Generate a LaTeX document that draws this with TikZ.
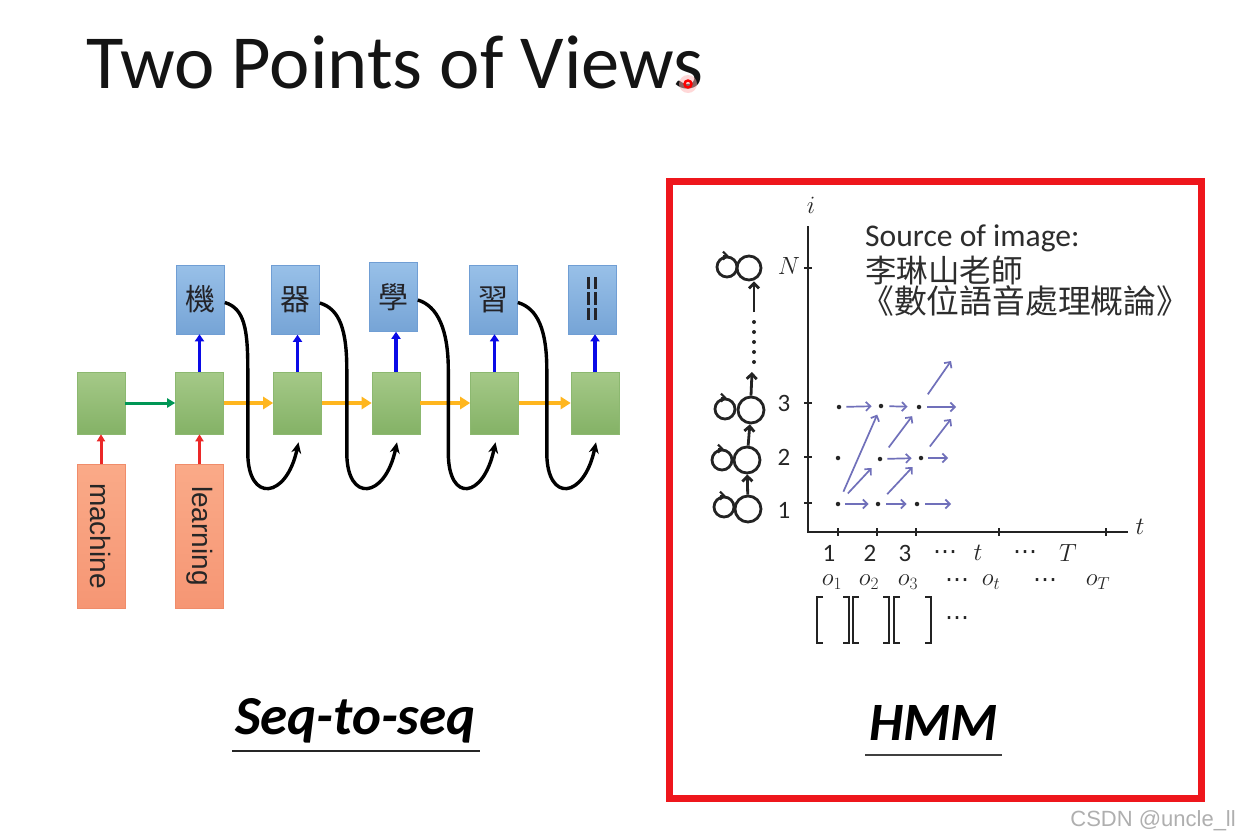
\documentclass[tikz,border=0pt]{standalone}
\usepackage{graphicx}
\usepackage{fontspec}
\setmainfont{Carlito}
\newfontfamily\cjk{Noto Sans CJK TC}
\newfontfamily\arialf{Liberation Sans}
\newfontfamily\djv{DejaVu Sans}
\usetikzlibrary{arrows.meta,calc}
\definecolor{hidtop}{RGB}{165,201,136}
\definecolor{hidbot}{RGB}{132,178,102}
\definecolor{hidline}{RGB}{140,184,112}
\definecolor{outtop}{RGB}{152,192,232}
\definecolor{outbot}{RGB}{118,164,214}
\definecolor{outline}{RGB}{112,158,212}
\definecolor{intop}{RGB}{250,170,136}
\definecolor{inbot}{RGB}{246,150,116}
\definecolor{inline}{RGB}{240,140,106}
\definecolor{cjktext}{RGB}{35,35,40}
\definecolor{arrred}{RGB}{235,40,40}
\definecolor{arrgreen}{RGB}{0,150,85}
\definecolor{arrorange}{RGB}{255,182,30}
\definecolor{arrblue}{RGB}{10,10,230}
\definecolor{hmmc}{RGB}{112,112,186}
\definecolor{penc}{RGB}{35,35,35}
\definecolor{framered}{RGB}{238,22,28}
\definecolor{srcgray}{RGB}{45,45,45}
\definecolor{wmgray}{RGB}{175,175,175}
\tikzset{
  hid/.style={rectangle, minimum width=48pt, minimum height=62pt, inner sep=0pt,
    top color=hidtop, bottom color=hidbot, draw=hidline, line width=0.6pt},
  outb/.style={rectangle, minimum width=48pt, minimum height=69pt, inner sep=0pt,
    top color=outtop, bottom color=outbot, draw=outline, line width=0.6pt,
    text=cjktext, font=\cjk\fontsize{30}{30}\selectfont},
  inb/.style={rectangle, minimum width=48pt, minimum height=144pt, inner sep=0pt,
    top color=intop, bottom color=inbot, draw=inline, line width=0.6pt,
    text=black!85, font=\arialf\fontsize{28}{28}\selectfont},
  redarr/.style={draw=arrred, line width=3pt, -{Triangle[length=7pt,width=8pt]}},
  greenarr/.style={draw=arrgreen, line width=3pt, -{Triangle[length=8pt,width=9pt]}},
  orangearr/.style={draw=arrorange, line width=4.8pt, -{Triangle[length=10pt,width=12pt]}},
  bluearr/.style={draw=arrblue, line width=3.4pt, -{Triangle[length=7pt,width=9pt]}},
  curv/.style={draw=black, line width=3.4pt, -{Stealth[length=11pt,width=10pt]}},
  dotn/.style={circle, fill=black!85, inner sep=0pt, minimum size=4.5pt},
  hmmarr/.style={draw=hmmc, line width=1.7pt, -{Straight Barb[length=4.5pt,width=9pt]}},
  statec/.style={circle, draw=penc, line width=2.8pt, inner sep=0pt, minimum size=26pt},
  loopc/.style={circle, draw=penc, line width=2.8pt, inner sep=0pt, minimum size=20pt},
  chainarr/.style={draw=penc, line width=2.8pt, -{Straight Barb[length=5pt,width=10pt]}},
  axisl/.style={draw=penc, line width=2.6pt},
  lab/.style={inner sep=0pt, font=\fontsize{25}{25}\selectfont, text=black!85},
  mlab/.style={inner sep=0pt, font=\fontsize{23}{23}\selectfont, text=black!85},
  dlab/.style={inner sep=0pt, font=\djv\fontsize{24}{24}\selectfont, text=black!85},
}
\begin{document}
\begin{tikzpicture}[x=1pt,y=-1pt]
\useasboundingbox (0,0) rectangle (1241,835);
\fill[white] (0,0) rectangle (1241,835);

% title
\node[anchor=base west, inner sep=0pt, font=\fontsize{76.5}{80}\selectfont, text=black!92] (title) at (86,88) {Two Points of Views};
\fill[red!30, opacity=0.5] (688,84) circle (9);
\draw[red, line width=2.4pt] (688,84) circle (3.5);

% ---------- Seq-to-seq ----------
\node[hid] (h1) at (101,403) {};
\node[hid] (h2) at (199.5,403) {};
\node[hid] (h3) at (297.5,403) {};
\node[hid] (h4) at (396,403) {};
\node[hid] (h5) at (494.5,403) {};
\node[hid] (h6) at (595,403) {};

\node[outb] (y2) at (200.5,299.5) {機};
\node[outb] (y3) at (295.5,300) {器};
\node[outb] (y4) at (393.5,297) {學};
\node[outb] (y5) at (493.5,299.5) {習};
\node[outb] (y6) at (592,299.5) {};
\foreach \xx in {588.5,595.5}
  \foreach \ya/\yb in {277/289,292/305,308/320}
    \draw[cjktext, line width=3.4pt] (\xx,\ya) -- (\xx,\yb);

\node[inb] (x1) at (101,536) {\rotatebox{-90}{machine}};
\node[inb] (x2) at (199.5,536) {\rotatebox{-90}{learning}};

\draw[redarr] (x1) -- (h1);
\draw[redarr] (x2) -- (h2);
\draw[greenarr] (h1) -- (h2);
\foreach \a/\b in {2/3,3/4,4/5,5/6}
  \draw[orangearr] (h\a) -- (h\b);
\foreach \a in {2,...,6}
  \draw[bluearr] (h\a.north) -- (h\a.north |- y\a.south);
\foreach \a/\b/\d in {2/3/24,3/4/25,4/5/28,5/6/28}
  \draw[curv] ([yshift=-3pt]y\a.east) .. controls +(20,6) and +(0,-40) ..
     ($(h\a.east)+(\d,-33)$) -- ($(h\a.east)+(\d,50)$)
     .. controls +(0,50) and +(-12,57) .. ($(h\b.south)+(1,8)$);

\node[anchor=base west, inner sep=0pt, font=\bfseries\itshape\fontsize{55}{55}\selectfont] (seq) at (235,734) {Seq-to-seq};
\draw[line width=2.2pt, black!85] (232,751) -- (480,751);

% ---------- HMM ----------
\draw[framered, line width=7pt] (669,181) rectangle (1201,798);

\node[anchor=base west, inner sep=0pt, font=\bfseries\itshape\fontsize{54}{54}\selectfont] (hmm) at (869,740) {HMM};
\draw[line width=2.2pt, black!75] (865,755) -- (1002,755);

\node[anchor=base west, inner sep=0pt, font=\fontsize{31.6}{32}\selectfont, text=srcgray] (src1) at (865,246) {Source of image:};
\node[anchor=west, inner sep=0pt, font=\cjk\fontsize{31.5}{32}\selectfont, text=srcgray] (src2) at (865,271) {李琳山老師};
\node[anchor=west, inner sep=0pt, font=\cjk\fontsize{32.8}{33}\selectfont, text=srcgray] (src3) at (861,301) {《數位語音處理概論》};

% axes
\coordinate (ytop) at (808,226);
\coordinate (orig) at (808,532);
\coordinate (xend) at (1128,532);
\draw[axisl] (ytop) -- (orig) -- (xend);
\foreach \yy in {268,403,457,503}
  \draw[penc, line width=1.8pt] (804,\yy) -- (812,\yy);
\foreach \xx in {838,877,916,999,1106}
  \draw[penc, line width=1.8pt] (\xx,528) -- (\xx,536);
\node[mlab] (ilab) at (811,205) {$i$};
\node[mlab] (tlab) at (1140,527) {$t$};
\node[mlab] (nlab) at (789,266) {$N$};
\node[lab] (l3) at (784,403) {3};
\node[lab] (l2) at (784,457) {2};
\node[lab] (l1) at (784,510) {1};

\node[lab] (b1) at (829,553) {1};
\node[lab] (b2) at (870,553) {2};
\node[lab] (b3) at (905,553) {3};
\node[dlab] (b4) at (945,555) {⋯};
\node[mlab] (b5) at (978,553) {$t$};
\node[dlab] (b6) at (1025,555) {⋯};
\node[mlab] (b7) at (1068,553) {$T$};

\node[mlab] (o1) at (832,582) {$o_1$};
\node[mlab] (o2) at (869,582) {$o_2$};
\node[mlab] (o3) at (908,582) {$o_3$};
\node[dlab] (o4) at (957,583) {⋯};
\node[mlab] (o5) at (991,582) {$o_t$};
\node[dlab] (o6) at (1045,583) {⋯};
\node[mlab] (o7) at (1098,582) {$o_T$};

% brackets
\draw[penc, line width=2.3pt] (823,597) -- (817,597) -- (817,643) -- (823,643);
\draw[penc, line width=2.3pt] (843,597) -- (849,597) -- (849,643) -- (843,643);
\draw[penc, line width=2.3pt] (859,597) -- (853,597) -- (853,643) -- (859,643);
\draw[penc, line width=2.3pt] (883,597) -- (889,597) -- (889,643) -- (883,643);
\draw[penc, line width=2.3pt] (900,597) -- (894,597) -- (894,643) -- (900,643);
\draw[penc, line width=2.3pt] (925,597) -- (931,597) -- (931,643) -- (925,643);
\node[dlab] (bdots) at (957,621) {⋯};

% trellis dots
\node[dotn] (d11) at (838,504) {};
\node[dotn] (d12) at (878,504) {};
\node[dotn] (d13) at (917,504) {};
\node[dotn] (d21) at (838,458) {};
\node[dotn] (d22) at (880,459) {};
\node[dotn] (d23) at (921,458) {};
\node[dotn] (d31) at (839,407) {};
\node[dotn] (d32) at (881,406) {};
\node[dotn] (d33) at (919,407) {};
\coordinate (e13) at (951,504);
\coordinate (e23) at (948,458);
\coordinate (e33) at (956,407);
\coordinate (u23) at (951,419);
\coordinate (u33) at (951,361);

\draw[hmmarr, shorten <=5pt, shorten >=7pt] (d11) -- (d12);
\draw[hmmarr, shorten <=6pt, shorten >=8pt] (d12) -- (d13);
\draw[hmmarr, shorten <=6pt] (d13) -- (e13);
\draw[hmmarr, shorten <=5pt, shorten >=7pt] (d22) -- (d23);
\draw[hmmarr, shorten <=5pt] (d23) -- (e23);
\draw[hmmarr, shorten <=5pt, shorten >=7pt] (d31) -- (d32);
\draw[hmmarr, shorten <=6pt, shorten >=9pt] (d32) -- (d33);
\draw[hmmarr, shorten <=6pt] (d33) -- (e33);
\draw[hmmarr, shorten <=11pt, shorten >=7pt] (d11) -- (d32);
\draw[hmmarr, shorten <=12pt, shorten >=10pt] (d11) -- (d22);
\draw[hmmarr, shorten <=11pt, shorten >=10pt] (d12) -- (d23);
\draw[hmmarr, shorten <=12pt, shorten >=9pt] (d22) -- (d33);
\draw[hmmarr, shorten <=12pt] (d23) -- (u23);
\draw[hmmarr, shorten <=13pt] (d33) -- (u33);

% state chain
\node[statec] (s1) at (748,509) {};
\node[statec] (s2) at (747,460) {};
\node[statec] (s3) at (751,410) {};
\node[statec, minimum size=24pt] (sN) at (749,268) {};
\node[loopc] (p1) at (724,507) {};
\node[loopc] (p2) at (722,460) {};
\node[loopc] (p3) at (725,409) {};
\node[loopc] (pN) at (727,267) {};
\foreach \p in {p1,p2,p3,pN}
  \draw[penc, line width=2.2pt, -{Straight Barb[length=4pt,width=8pt]}] ([xshift=-4pt]\p.north) -- ([xshift=1.5pt]\p.north);
\draw[chainarr] (s1) -- (s2);
\draw[chainarr] (s2) -- (s3);
\coordinate (c3) at (752,372);
\coordinate (cN) at (754,312);
\draw[chainarr] (s3.north) -- (c3);
\foreach \yy in {322,332,342,352,362}
  \fill[penc] (754,\yy) circle (2);
\draw[chainarr] (cN) -- (sN.south -| cN);

% watermark
\node[anchor=base east, inner sep=0pt, font=\arialf\fontsize{22}{22}\selectfont, text=wmgray] (wm) at (1236,826) {CSDN @uncle\_ll};
\end{tikzpicture}
\end{document}
